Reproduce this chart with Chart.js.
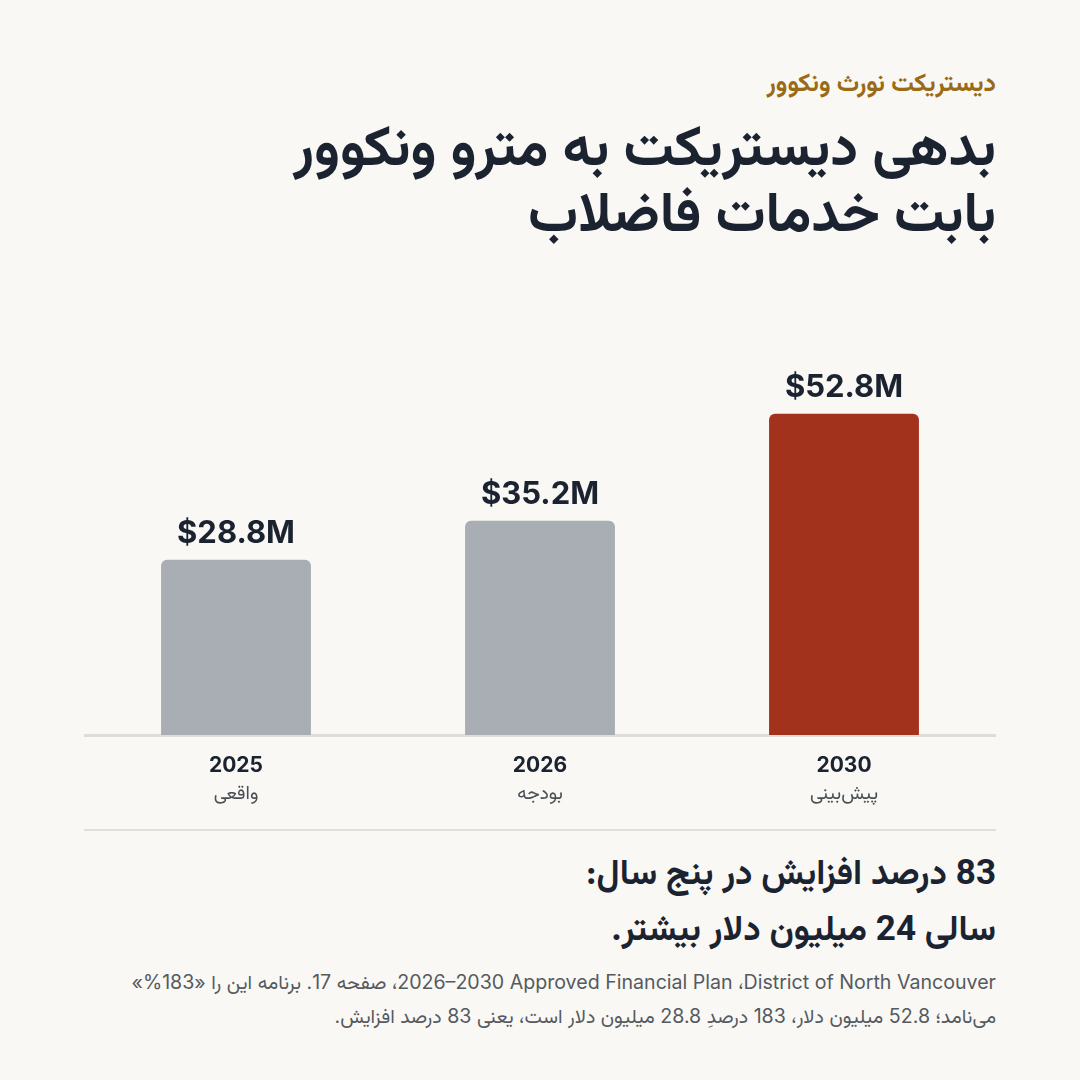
<!DOCTYPE html>
<html lang="fa" dir="rtl">
<head>
<meta charset="utf-8">
<script src="https://cdn.jsdelivr.net/npm/chart.js@4"></script>
<style>
  html,body{margin:0;padding:0;background:#f9f8f5;}
  body{width:1080px;height:1080px;position:relative;overflow:hidden;
       font-family:"Vazirmatn","Noto Sans Arabic","DejaVu Sans",sans-serif;color:#1b2330;}
  .kicker{position:absolute;right:84px;top:70px;font-size:25px;line-height:30px;font-weight:700;color:#9a6a14;}
  .title{position:absolute;right:84px;top:119px;font-size:56px;font-weight:700;line-height:66px;margin:0;white-space:nowrap;}
  .sep{position:absolute;left:84px;width:912px;top:829px;height:2px;background:#e2dfda;}
  .head{position:absolute;right:84px;top:848px;font-size:35px;font-weight:700;line-height:56px;white-space:nowrap;}
  .note{position:absolute;right:84px;top:965px;font-size:19.6px;line-height:34px;color:#555a60;white-space:nowrap;
        font-family:"Inter","Vazirmatn","Noto Sans Arabic","DejaVu Sans",sans-serif;}
  #wrap{position:absolute;left:84px;top:340px;width:912px;height:480px;}
</style>
</head>
<body>
<div class="kicker">دیستریکت نورث ونکوور</div>
<h1 class="title">بدهی دیستریکت به مترو ونکوور<br>بابت خدمات فاضلاب</h1>
<div id="wrap"><canvas id="chart"></canvas></div>
<div class="sep"></div>
<div class="head">83 درصد افزایش در پنج سال:<br>سالی 24 میلیون دلار بیشتر.</div>
<div class="note"><bdi dir="ltr">District of North Vancouver</bdi>، <bdi dir="ltr">2026–2030 Approved Financial Plan</bdi>، صفحه 17. برنامه این را «183%»<br>می‌نامد؛ 52.8 میلیون دلار، 183 درصدِ 28.8 میلیون دلار است، یعنی 83 درصد افزایش.</div>

<script>
/* ---------- data ---------- */
const years      = ["2025", "2026", "2030"];
const yearNotes  = ["واقعی", "بودجه", "پیش‌بینی"];
const debtM      = [28.8, 35.2, 52.8];
const barColors  = ["#a8aeb4", "#a8aeb4", "#a3321c"];

/* ---------- labels above bars + note under each year ---------- */
const labelPlugin = {
  id: "labels",
  afterDatasetsDraw(chart) {
    const {ctx, scales: {x}} = chart;
    const meta = chart.getDatasetMeta(0);
    ctx.save();
    ctx.textAlign = "center";
    ctx.direction = "ltr";
    ctx.fillStyle = "#1b2330";
    ctx.font = "700 31px Inter, 'DejaVu Sans', sans-serif";
    ctx.textBaseline = "alphabetic";
    meta.data.forEach((bar, i) => {
      ctx.fillText("$" + debtM[i].toFixed(1) + "M", bar.x, bar.y - 17);
    });
    ctx.direction = "rtl";
    ctx.fillStyle = "#4a4f56";
    ctx.font = "400 19px Vazirmatn, 'Noto Sans Arabic', 'DejaVu Sans', sans-serif";
    ctx.textBaseline = "middle";
    yearNotes.forEach((t, i) => {
      ctx.fillText(t, x.getPixelForValue(i), chart.chartArea.bottom + 61);
    });
    ctx.restore();
  }
};

new Chart(document.getElementById("chart"), {
  type: "bar",
  data: {
    labels: years,
    datasets: [{
      data: debtM,
      backgroundColor: barColors,
      borderRadius: 6,
      barPercentage: 0.493,
      categoryPercentage: 1
    }]
  },
  options: {
    responsive: true,
    maintainAspectRatio: false,
    animation: false,
    layout: {padding: {top: 30, left: 0, right: 0, bottom: 0}},
    plugins: {legend: {display: false}, tooltip: {enabled: false}},
    scales: {
      y: {display: false, min: 0, max: 60},
      x: {
        grid: {display: false},
        border: {display: true, color: "#e0ddd8", width: 3},
        ticks: {
          color: "#1b2330",
          padding: 10,
          font: {family: "Inter, 'DejaVu Sans', sans-serif", size: 21, weight: "700"}
        },
        afterFit(scale) { scale.height = 85; }
      }
    }
  },
  plugins: [labelPlugin]
});
</script>
</body>
</html>
